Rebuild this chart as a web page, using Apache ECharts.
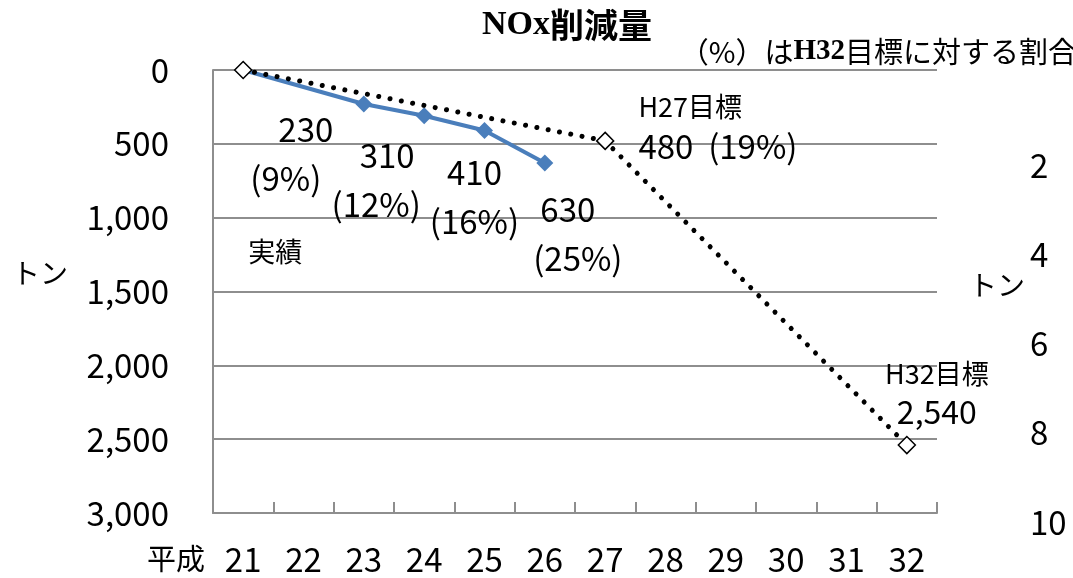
<!DOCTYPE html>
<html>
<head>
<meta charset="utf-8">
<script src="https://cdn.jsdelivr.net/npm/echarts@6/dist/echarts.min.js"></script>
<style>
  html, body { margin: 0; padding: 0; background: #fff; }
  #chart { width: 1073px; height: 578px; }
</style>
</head>
<body>
<div id="chart"></div>
<script>
// 年度 (平成)
const years = ['21', '22', '23', '24', '25', '26', '27', '28', '29', '30', '31', '32'];
// 実績 (トン)
const actual = [0, null, 230, 310, 410, 630, null, null, null, null, null, null];
// 目標 (トン)
const target = [0, null, null, null, null, null, 480, null, null, null, null, 2540];
// 左軸
const leftTicks = { min: 0, max: 3000, step: 500 };
// 右側 (切れている隣のグラフの軸)
const rightTicks = { min: 0, max: 10, step: 2 };

const goal = target[target.length - 1];
const pct = v => Math.round(v / goal * 100);
const fmt = v => v.toLocaleString('en-US');

const FONT = "'Noto Sans CJK JP', sans-serif";
const GRAY = '#8e8e8e';

// ラベル位置（見た目合わせ）: [dx, dy, 1行目のずれ]
const actualLabelPos = { 2: [-78, 50, 20], 3: [-48, 64, 11], 4: [-10, 66, 0], 5: [33, 71, -10] };

const actualData = actual.map((v, i) => {
  if (v === null) return null;
  if (i === 0) {
    return {
      value: v,
      label: {
        show: true, position: 'inside', offset: [32, 182],
        formatter: '実績', fontSize: 27
      }
    };
  }
  const p = actualLabelPos[i];
  const s = p[2];
  return {
    value: v,
    label: {
      show: true, position: 'inside', offset: [p[0], p[1]],
      formatter: '{a|' + fmt(v) + '}\n{b|(' + pct(v) + '%)}',
      rich: {
        a: { fontSize: 33, lineHeight: 49, fontFamily: FONT, color: '#000',
             padding: s >= 0 ? [0, 0, 0, 2 * s] : [0, -2 * s, 0, 0] },
        b: { fontSize: 33, lineHeight: 49, fontFamily: FONT, color: '#000' }
      }
    }
  };
});

const targetData = target.map((v, i) => {
  if (v === null) return null;
  if (i === 6) {
    return {
      value: v,
      label: {
        show: true, position: 'right', distance: 5, offset: [19, -14], align: 'left',
        formatter: '{a|H27目標}\n{b|' + fmt(v) + '  (' + pct(v) + '%)}',
        rich: {
          a: { fontSize: 27, lineHeight: 40, fontFamily: FONT, color: '#000' },
          b: { fontSize: 33, lineHeight: 40, fontFamily: FONT, color: '#000' }
        }
      }
    };
  }
  if (i === years.length - 1) {
    return {
      value: v,
      label: {
        show: true, position: 'top', distance: 5, offset: [30, 0],
        formatter: '{a|H32目標}\n{b|' + fmt(v) + '}',
        rich: {
          a: { fontSize: 27, lineHeight: 38, fontFamily: FONT, color: '#000' },
          b: { fontSize: 32, lineHeight: 38, fontFamily: FONT, color: '#000' }
        }
      }
    };
  }
  return v;
});

const chart = echarts.init(document.getElementById('chart'));

const option = {
  animation: false,
  backgroundColor: '#fff',
  textStyle: { fontFamily: FONT, color: '#000' },
  title: [
    {
      text: '{a|NOx}{b|削減量}',
      left: 562, top: 3, textAlign: 'center',
      textStyle: {
        rich: {
          a: { fontFamily: "'Liberation Serif', serif", fontWeight: 'bold', fontSize: 34, color: '#000' },
          b: { fontFamily: FONT, fontWeight: 'bold', fontSize: 34, color: '#000' }
        }
      }
    },
    {
      text: '{b|（%）は}{a|H32}{b|目標に対する割合}',
      left: 1072, top: 32, textAlign: 'right',
      textStyle: {
        fontWeight: 'normal',
        rich: {
          a: { fontFamily: "'Liberation Serif', serif", fontWeight: 'bold', fontSize: 29, color: '#000' },
          b: { fontFamily: FONT, fontWeight: 'normal', fontSize: 29, color: '#000' }
        }
      }
    }
  ],
  grid: [
    { left: 213, right: 136, top: 70, bottom: 65 },
    { left: 1060, right: 5, top: 76, bottom: 56 }
  ],
  xAxis: [
    {
      type: 'category',
      gridIndex: 0,
      data: years,
      boundaryGap: true,
      name: '平成',
      nameLocation: 'start',
      nameGap: 8,
      nameTextStyle: { fontSize: 29, color: '#000', verticalAlign: 'top', padding: [31, 0, 0, 0] },
      axisLine: { onZero: false, lineStyle: { color: GRAY, width: 2 } },
      axisTick: { show: true, inside: true, length: 11, interval: 0, lineStyle: { color: GRAY, width: 2 } },
      axisLabel: { fontSize: 33, color: '#000', margin: 30, interval: 0 },
      splitLine: { show: false }
    },
    { type: 'value', gridIndex: 1, show: false }
  ],
  yAxis: [
    {
      type: 'value',
      gridIndex: 0,
      inverse: true,
      min: leftTicks.min, max: leftTicks.max, interval: leftTicks.step,
      name: 'トン',
      nameLocation: 'middle',
      nameRotate: 0,
      nameGap: 173,
      nameTextStyle: { fontSize: 28, color: '#000', align: 'center', verticalAlign: 'bottom', padding: [0, 0, 4, 0] },
      axisLine: { show: true, lineStyle: { color: GRAY, width: 2 } },
      axisTick: { show: false },
      axisLabel: { fontSize: 33, color: '#000', margin: 44, formatter: v => fmt(v) },
      splitLine: { show: true, lineStyle: { color: GRAY, width: 2 } }
    },
    {
      type: 'value',
      gridIndex: 1,
      inverse: true,
      min: rightTicks.min, max: rightTicks.max, interval: rightTicks.step,
      name: 'トン',
      nameLocation: 'middle',
      nameRotate: 0,
      nameGap: 59,
      nameTextStyle: { fontSize: 28, color: '#000', align: 'center', verticalAlign: 'bottom' },
      axisLine: { show: false },
      axisTick: { show: false },
      splitLine: { show: false },
      axisLabel: { fontSize: 33, color: '#000', margin: 30, align: 'left', showMinLabel: false }
    }
  ],
  series: [
    {
      name: '実績',
      type: 'line',
      xAxisIndex: 0, yAxisIndex: 0,
      data: actualData,
      connectNulls: true,
      symbol: 'diamond',
      symbolSize: 17,
      itemStyle: { color: '#4a7ebb' },
      lineStyle: { color: '#4a7ebb', width: 4 },
      label: { color: '#000', fontFamily: FONT },
      z: 2
    },
    {
      name: '目標',
      type: 'line',
      xAxisIndex: 0, yAxisIndex: 0,
      data: targetData,
      connectNulls: true,
      symbol: 'diamond',
      symbolSize: 17,
      showSymbol: true,
      itemStyle: { color: '#fff', borderColor: '#000', borderWidth: 1.5 },
      lineStyle: { color: '#000', width: 5, type: [0.01, 11.5], cap: 'round' },
      label: { color: '#000', fontFamily: FONT },
      z: 3
    }
  ]
};

chart.setOption(option);
</script>
</body>
</html>
